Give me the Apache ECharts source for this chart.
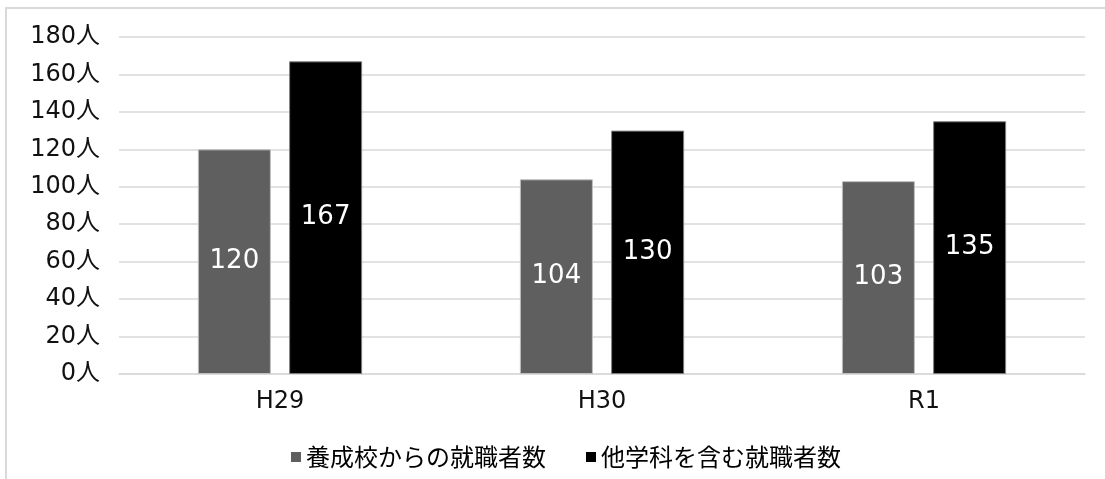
<!DOCTYPE html>
<html>
<head>
<meta charset="utf-8">
<script src="https://cdn.jsdelivr.net/npm/echarts@6/dist/echarts.min.js"></script>
<style>
  html, body { margin: 0; padding: 0; background: #fff; }
  #frame {
    position: absolute; left: 5px; top: 7px;
    width: 1100px; height: 472px;
    border-left: 2px solid #d9d9d9;
    border-top: 2px solid #d9d9d9;
  }
  #chart { position: absolute; left: 0; top: 0; width: 1105px; height: 479px; }
</style>
</head>
<body>
<div id="frame"></div>
<div id="chart"></div>
<script>
  var categories = ['H29', 'H30', 'R1'];
  var schoolName = '養成校からの就職者数';
  var allName = '他学科を含む就職者数';
  var schoolValues = [120, 104, 103];
  var allValues = [167, 130, 135];
  var yTicks = { min: 0, max: 180, interval: 20, unit: '人' };

  var font = '"DejaVu Sans", "Noto Sans CJK JP", sans-serif';

  var myChart = echarts.init(document.getElementById('chart'));
  var option = {
    animation: false,
    textStyle: { fontFamily: font },
    grid: { left: 119, right: 20, top: 37, bottom: 105 },
    legend: {
      data: [schoolName, allName],
      left: 286,
      top: 440,
      itemWidth: 10,
      itemHeight: 10,
      itemGap: 40,
      icon: 'rect',
      itemStyle: { borderWidth: 0 },
      textStyle: { fontSize: 24, color: '#000', fontFamily: '"Noto Sans CJK JP", sans-serif' }
    },
    xAxis: {
      type: 'category',
      data: categories,
      axisLine: { show: true, lineStyle: { color: '#d9d9d9', width: 1.5 } },
      axisTick: { show: false },
      axisLabel: { color: '#111', fontSize: 24, margin: 16, fontFamily: font }
    },
    yAxis: {
      type: 'value',
      min: yTicks.min,
      max: yTicks.max,
      interval: yTicks.interval,
      axisLine: { show: false },
      axisTick: { show: false },
      splitLine: { lineStyle: { color: '#d9d9d9', width: 1.5 } },
      axisLabel: {
        color: '#111', fontSize: 24, margin: 19, fontFamily: font,
        formatter: function (v) { return v + yTicks.unit; }
      }
    },
    series: [
      {
        name: schoolName,
        type: 'bar',
        data: schoolValues,
        barWidth: 73,
        barGap: '25%',
        itemStyle: { color: '#5f5f5f', borderColor: '#bfbfbf', borderWidth: 1 },
        label: { show: true, position: 'inside', color: '#fff', fontSize: 26, fontFamily: font }
      },
      {
        name: allName,
        type: 'bar',
        data: allValues,
        barWidth: 73,
        itemStyle: { color: '#000', borderColor: '#7f7f7f', borderWidth: 1 },
        label: { show: true, position: 'inside', color: '#fff', fontSize: 26, fontFamily: font }
      }
    ]
  };
  myChart.setOption(option, true);
</script>
</body>
</html>
